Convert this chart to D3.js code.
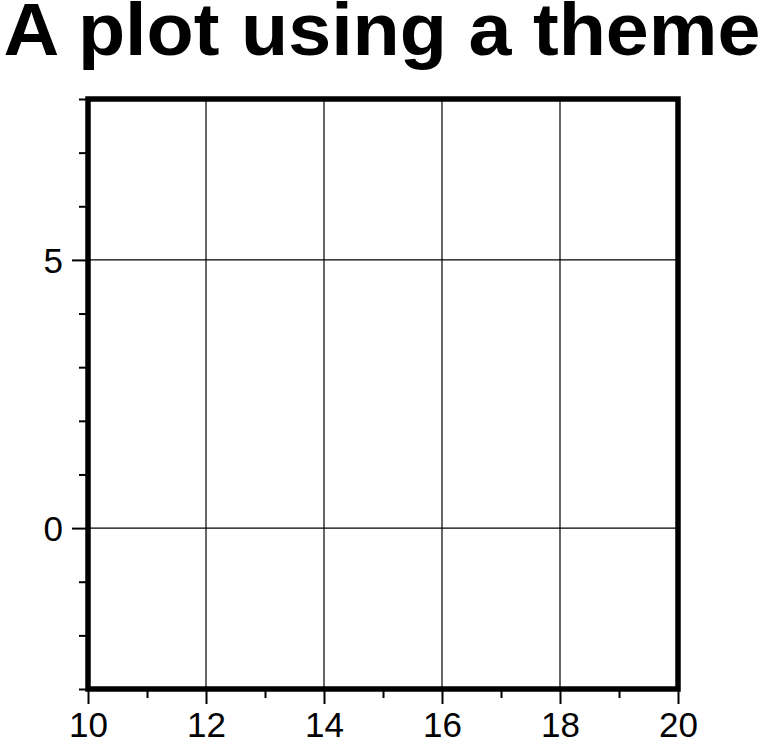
<!DOCTYPE html>
<html><head><meta charset="utf-8">
<script src="https://cdn.jsdelivr.net/npm/d3@7"></script>
<style>body{margin:0;background:#fff}svg{display:block}</style>
</head><body>
<script>
const title = "A plot using a theme";
const xDomain = [10, 20];
const yDomain = [-3, 8];
const xMajorTicks = [10, 12, 14, 16, 18, 20];
const xMinorTicks = [11, 13, 15, 17, 19];
const yMajorTicks = [0, 5];
const yMinorTicks = [-3, -2, -1, 1, 2, 3, 4, 6, 7, 8];
const xGrid = [12, 14, 16, 18];
const yGrid = [0, 5];

const W = 764, H = 741;
const L = 88, R = 678, T = 99, B = 689;
const svg = d3.select("body").append("svg").attr("width", W).attr("height", H);
const x = d3.scaleLinear().domain(xDomain).range([L, R]);
const y = d3.scaleLinear().domain(yDomain).range([B, T]);
const font = "'Liberation Sans', Arial, sans-serif";

// grid
svg.append("g").selectAll("line").data(xGrid).join("line")
  .attr("x1", d => x(d)).attr("x2", d => x(d)).attr("y1", T).attr("y2", B)
  .attr("stroke", "#000").attr("stroke-width", 1.2);
svg.append("g").selectAll("line").data(yGrid).join("line")
  .attr("y1", d => y(d)).attr("y2", d => y(d)).attr("x1", L).attr("x2", R)
  .attr("stroke", "#000").attr("stroke-width", 1.2);

// axes
const yAxis = d3.axisLeft(y).tickValues(yMajorTicks).tickSize(16).tickPadding(9).tickFormat(d3.format("d"));
const yAxisMinor = d3.axisLeft(y).tickValues(yMinorTicks).tickSize(9).tickFormat("");
const xAxis = d3.axisBottom(x).tickValues(xMajorTicks).tickSize(15).tickPadding(8).tickFormat(d3.format("d"));
const xAxisMinor = d3.axisBottom(x).tickValues(xMinorTicks).tickSize(9).tickFormat("");

function styleAxis(g){
  g.select(".domain").remove();
  g.selectAll(".tick line").attr("stroke", "#000").attr("stroke-width", 2);
  g.selectAll(".tick text").attr("fill", "#000").style("font-family", font).style("font-size", "35px");
}
svg.append("g").attr("transform", `translate(${L},0)`).call(yAxisMinor).call(styleAxis);
svg.append("g").attr("transform", `translate(${L},0)`).call(yAxis).call(styleAxis)
  .selectAll(".tick text").attr("dy", "0.36em");
svg.append("g").attr("transform", `translate(0,${B})`).call(xAxisMinor).call(styleAxis);
svg.append("g").attr("transform", `translate(0,${B})`).call(xAxis).call(styleAxis)
  .selectAll(".tick text").attr("dy", "0.72em");

// frame
svg.append("rect").attr("x", L).attr("y", T).attr("width", R - L).attr("height", B - T)
  .attr("fill", "none").attr("stroke", "#000").attr("stroke-width", 5.5).attr("stroke-linejoin", "miter");

// title
svg.append("text").attr("x", 382).attr("y", 55).attr("text-anchor", "middle")
  .style("font-family", font).style("font-weight", "bold").style("font-size", "74px")
  .attr("textLength", 757).attr("lengthAdjust", "spacingAndGlyphs")
  .text(title);
</script>
</body></html>
